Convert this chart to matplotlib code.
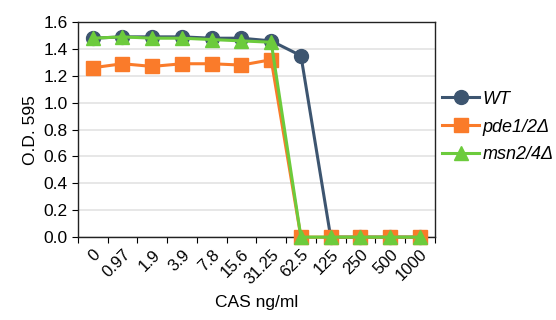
import matplotlib
matplotlib.use("Agg")
import matplotlib.pyplot as plt
import numpy as np

# --- Data ---
conc_labels = ["0", "0.97", "1.9", "3.9", "7.8", "15.6", "31.25", "62.5", "125", "250", "500", "1000"]
wt = [1.48, 1.49, 1.49, 1.49, 1.48, 1.48, 1.46, 1.35, 0, 0, 0, 0]
pde = [1.26, 1.29, 1.27, 1.29, 1.29, 1.28, 1.32, 0, 0, 0, 0, 0]
msn = [1.48, 1.49, 1.48, 1.48, 1.47, 1.46, 1.45, 0, 0, 0, 0, 0]

plt.rcParams['font.family'] = ['Liberation Sans', 'DejaVu Sans']

fig = plt.figure(figsize=(5.56, 3.2), dpi=100)
ax = fig.add_axes([0.140, 0.259, 0.642, 0.672])

x = np.arange(len(conc_labels))
ax.plot(x, wt, color='#3d5570', marker='o', markersize=10, linewidth=2.2, label='WT', clip_on=False, zorder=3)
ax.plot(x, pde, color='#fa7b2a', marker='s', markersize=9.5, linewidth=2.2, label='pde1/2Δ', clip_on=False, zorder=4)
ax.plot(x, msn, color='#6ccb3c', marker='^', markersize=10, linewidth=2.2, label='msn2/4Δ', clip_on=False, zorder=5)

ax.set_xlim(-0.5, len(conc_labels) - 0.5)
ax.set_ylim(0, 1.6)
ax.set_yticks(np.arange(0, 1.61, 0.2))
ax.set_yticklabels([f"{v:.1f}" for v in np.arange(0, 1.61, 0.2)], fontsize=12.5)
ax.yaxis.grid(True, color='#e3e3e3', linewidth=1.2)
ax.set_axisbelow(True)

# category ticks between points, labels at centers
ax.set_xticks(np.arange(-0.5, len(conc_labels) + 0.5, 1))
ax.set_xticklabels([])
ax.set_xticks(x, minor=True)
ax.set_xticklabels(conc_labels, minor=True, rotation=45, ha='right', va='top',
                   rotation_mode='anchor', fontsize=12)
ax.tick_params(axis='x', which='minor', length=0, pad=7)
ax.tick_params(axis='x', which='major', length=4, direction='out')
ax.tick_params(axis='y', length=4, direction='out')

for s in ax.spines.values():
    s.set_color('#222222')
    s.set_linewidth(1.0)

ax.set_ylabel("O.D. 595", fontsize=12.5)
ax.set_xlabel("CAS ng/ml", fontsize=12.5, labelpad=6)

leg = fig.legend(*ax.get_legend_handles_labels(), loc='center left',
                 bbox_to_anchor=(0.795, 0.603), frameon=False, borderaxespad=0, borderpad=0,
                 fontsize=13, handlelength=2.05, handletextpad=0.2, labelspacing=0.6)
for t in leg.get_texts():
    t.set_fontstyle('italic')

fig.savefig("out.png", dpi=100)
